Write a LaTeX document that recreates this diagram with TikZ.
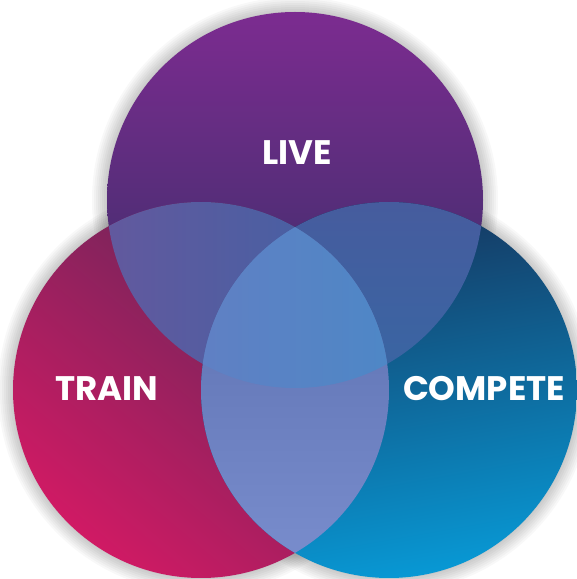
\documentclass[tikz,border=0pt]{standalone}
\usepackage{fontspec}
\setmainfont{Poppins}
\definecolor{topA}{RGB}{124,44,144}
\definecolor{topM}{RGB}{64,48,110}
\definecolor{topB}{RGB}{50,46,100}
\definecolor{leftA}{RGB}{92,40,88}
\definecolor{leftB}{RGB}{208,26,100}
\definecolor{rightA}{RGB}{22,52,92}
\definecolor{rightB}{RGB}{8,152,212}
\definecolor{tlA}{RGB}{110,86,156}
\definecolor{tlB}{RGB}{62,98,164}
\definecolor{trA}{RGB}{70,92,158}
\definecolor{trB}{RGB}{42,112,168}
\definecolor{lrA}{RGB}{88,108,172}
\definecolor{lrB}{RGB}{122,142,206}
\definecolor{cA}{RGB}{96,128,196}
\definecolor{cB}{RGB}{60,142,200}
\tikzset{
  lbl/.style={text=white, font=\fontsize{34}{34}\selectfont\bfseries, inner sep=0pt},
}
\newcommand{\rad}{188}
\begin{document}
\begin{tikzpicture}[x=1pt,y=1pt]
\useasboundingbox (0,0) rectangle (577,579);
\fill[white] (0,0) rectangle (577,579);
\coordinate (T) at (295,379);
\coordinate (L) at (201,189);
\coordinate (R) at (389,189);
% soft shadow
\foreach \k in {1,3,...,15}{
  \fill[black, opacity=0.028] (T) circle (\rad+\k);
  \fill[black, opacity=0.028] (L) circle (\rad+\k);
  \fill[black, opacity=0.028] (R) circle (\rad+\k);
}
% main circles
\shade[top color=topA, middle color=topM, bottom color=topB] (T) circle (\rad);
\shade[top color=leftA, bottom color=leftB, shading angle=-40] (L) circle (\rad);
\shade[top color=rightA, bottom color=rightB, shading angle=10] (R) circle (\rad);
% pairwise overlaps
\begin{scope}
  \clip (T) circle (\rad);
  \shade[left color=tlA, right color=tlB] (L) circle (\rad);
\end{scope}
\begin{scope}
  \clip (T) circle (\rad);
  \shade[top color=trA, bottom color=trB] (R) circle (\rad);
\end{scope}
\begin{scope}
  \clip (L) circle (\rad);
  \shade[top color=lrA, bottom color=lrB] (R) circle (\rad);
\end{scope}
% triple overlap
\begin{scope}
  \clip (T) circle (\rad);
  \clip (L) circle (\rad);
  \shade[left color=cA, right color=cB] (R) circle (\rad);
\end{scope}
% labels
\node[lbl] (live) at (297,426) {LIVE};
\node[lbl] (train) at (107,190) {TRAIN};
\node[lbl] (compete) at (484,190) {COMPETE};
\end{tikzpicture}
\end{document}
